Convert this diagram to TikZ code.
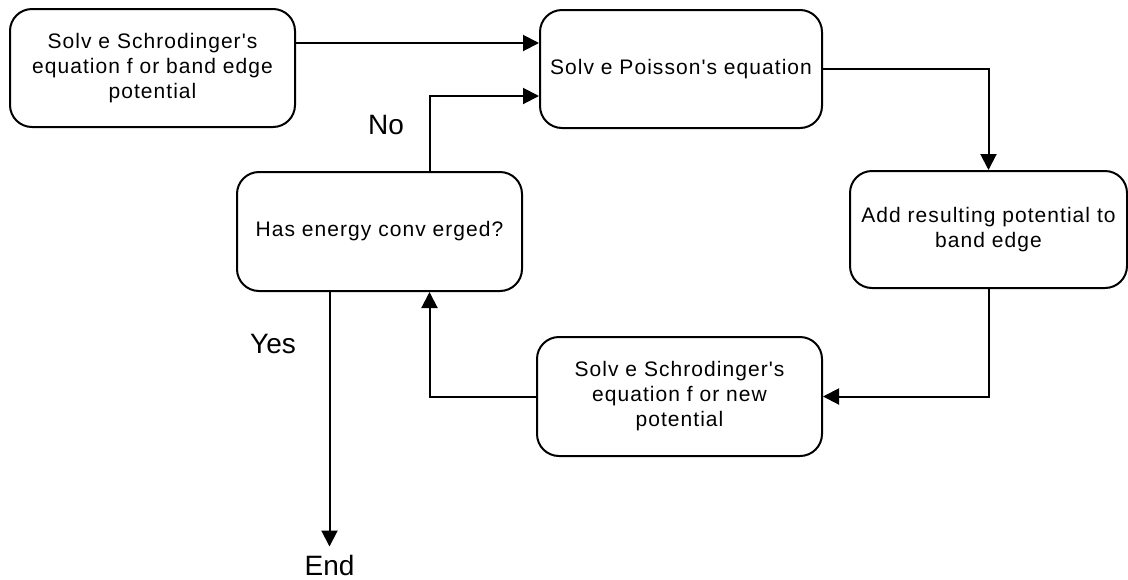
\documentclass[tikz,border=0pt]{standalone}
\usepackage{fontspec}
\setmainfont{Liberation Sans}
\newfontfamily\boxfam[LetterSpace=5]{Liberation Sans}
\usetikzlibrary{arrows.meta}
\begin{document}
\begin{tikzpicture}[x=1pt,y=-1pt,
  box/.style={draw, line width=2pt, rounded corners=22pt, align=center, inner sep=0pt,
    font={\boxfam\fontsize{21}{25}\selectfont}},
  lbl/.style={inner sep=0pt, font={\fontsize{28}{34}\selectfont}},
  arr/.style={line width=2pt, -{Triangle[length=16pt,width=16pt]}}]
\useasboundingbox (0,0) rectangle (1128,579);
\node[box, minimum width=285pt, minimum height=118pt] (b1) at (152.5,68) {Solv e Schrodinger's\\equation f or band edge\\potential};
\node[box, minimum width=282pt, minimum height=118pt] (b2) at (681,69) {Solv e Poisson's equation};
\node[box, minimum width=277pt, minimum height=117pt] (b3) at (988.5,229.5) {Add resulting potential to\\band edge};
\node[box, minimum width=285pt, minimum height=119pt] (b4) at (379.5,231.5) {Has energy conv erged?};
\node[box, minimum width=285pt, minimum height=119pt] (b5) at (679.5,396.5) {Solv e Schrodinger's\\equation f or new\\potential};
\node[lbl, anchor=base] (no) at (386,134) {No};
\node[lbl, anchor=base] (yes) at (273,353) {Yes};
\node[lbl, anchor=base] (end) at (329.5,575) {End};
\draw[arr] ([yshift=25pt]b1.east) -- ([yshift=25pt]b1.east -| b2.west);
\draw[arr] (b2.east) -| (b3.north);
\draw[arr] (b3.south) |- (b5.east);
\draw[arr] (b5.west) -| ([xshift=50pt]b4.south);
\draw[arr] ([xshift=50pt]b4.north) |- ([yshift=-27pt]b2.west);
\draw[arr] ([xshift=-50pt]b4.south) -- ([xshift=-50pt,yshift=8pt]b4.south |- end.north);
\end{tikzpicture}
\end{document}
